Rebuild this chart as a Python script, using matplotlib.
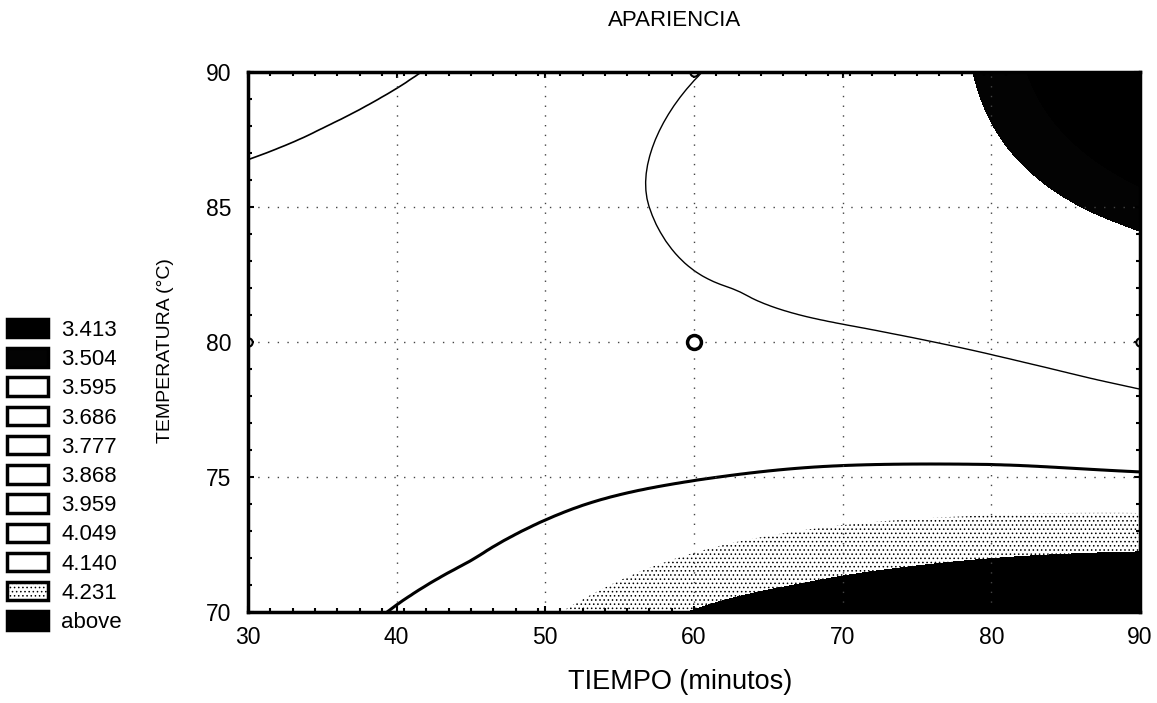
import numpy as np
import matplotlib
matplotlib.use('Agg')
import matplotlib.pyplot as plt
import matplotlib.tri as mtri
from matplotlib.patches import Patch
from matplotlib.ticker import MultipleLocator

plt.rcParams['font.family'] = ['Liberation Sans', 'DejaVu Sans']
plt.rcParams['hatch.color'] = 'black'
plt.rcParams['hatch.linewidth'] = 0.6

# superficie de respuesta: apariencia en la rejilla tiempo x temperatura
tiempo = [30, 40, 50, 60, 70, 80, 90]
temperatura = [70, 75, 80, 85, 90]
apariencia = [
    [3.930, 4.055, 4.130, 4.235, 4.300, 4.355, 4.380],
    [3.960, 3.990, 4.020, 4.045, 4.065, 4.070, 4.060],
    [4.010, 4.000, 3.970, 3.920, 3.890, 3.845, 3.760],
    [4.040, 4.020, 3.950, 3.840, 3.760, 3.600, 3.450],
    [4.075, 4.056, 3.988, 3.875, 3.714, 3.470, 3.246],
]
niveles = [3.413, 3.504, 3.595, 3.686, 3.777, 3.868, 3.959, 4.049, 4.140, 4.231]
etiquetas = ['%.3f' % n for n in niveles] + ['above']

# relleno de cada franja (11 franjas)
colores = ['black', '#030303'] + ['white'] * 7 + ['white', 'black']
tramas = [None] * 9 + ['....', None]

X, Y = np.meshgrid(tiempo, temperatura)
Z = np.array(apariencia)

# suavizado cubico de la rejilla
tri = mtri.Triangulation(X.ravel(), Y.ravel())
interp = mtri.CubicTriInterpolator(tri, Z.ravel(), kind='min_E')
tri_f, z_f = mtri.UniformTriRefiner(tri).refine_field(Z.ravel(), triinterpolator=interp,
                                                      subdiv=4)

fig = plt.figure(figsize=(11.57, 7.03), dpi=100)
ax = fig.add_axes([248/1157, 1-612/703, (1140-248)/1157, (612-72)/703])

lv = [Z.min() - 1] + niveles + [Z.max() + 1]
ax.tricontourf(tri_f, z_f, levels=lv, colors=colores, hatches=tramas)

# lineas de contorno visibles
yc = tri_f.y[tri_f.triangles].mean(axis=1)
tri_bajo = mtri.Triangulation(tri_f.x, tri_f.y, tri_f.triangles, mask=yc > 82.5)
tri_alto = mtri.Triangulation(tri_f.x, tri_f.y, tri_f.triangles, mask=yc <= 82.5)
ax.tricontour(tri_bajo, z_f, levels=[4.049], colors='black', linewidths=2.2)
ax.tricontour(tri_alto, z_f, levels=[4.049], colors='black', linewidths=1.2)
ax.tricontour(tri_f, z_f, levels=[3.868], colors='black', linewidths=1.0)

# rejilla punteada
for xv in [40, 50, 60, 70, 80]:
    ax.axvline(xv, color='#444444', lw=1.0, ls=(0, (1, 6)))
for yv in [75, 80, 85]:
    ax.axhline(yv, color='#444444', lw=1.0, ls=(0, (1, 6)))

# punto central y puntos del diseño
ax.plot(60, 80, 'o', mfc='white', mec='black', ms=10, mew=2.5)
ax.plot([60, 30, 90], [90, 80, 80], 'o', mfc='white', mec='black', ms=6, mew=1.5)

ax.set_xlim(30, 90)
ax.set_ylim(70, 90)
ax.set_xticks([30, 40, 50, 60, 70, 80, 90])
ax.set_yticks([70, 75, 80, 85, 90])
ax.xaxis.set_minor_locator(MultipleLocator(1.5))
ax.yaxis.set_minor_locator(MultipleLocator(1))
ax.tick_params(which='both', direction='in', top=True, right=True, width=1.5)
ax.tick_params(which='major', length=4, labelsize=16.5)
ax.tick_params(which='minor', length=3)
ax.tick_params(axis='x', pad=10)
ax.tick_params(axis='y', pad=12)
for s in ax.spines.values():
    s.set_linewidth(2.5)

fig.text(675/1157, 1-20/703, 'APARIENCIA', ha='center', va='center', fontsize=16)
fig.text(680/1157, 1-682/703, 'TIEMPO (minutos)', ha='center', va='center', fontsize=19.5)
fig.text(166/1157, 1-351/703, 'TEMPERATURA (°C)', ha='center', va='center',
         rotation=90, fontsize=14)

handles = [Patch(facecolor=c, edgecolor='black', lw=2.5, hatch=h)
           for c, h in zip(colores, tramas)]
fig.legend(handles, etiquetas, loc='upper left', bbox_to_anchor=(7/1157, 1-319/703),
           frameon=False, fontsize=16, handlelength=1.85, handleheight=0.9,
           handletextpad=0.6, labelspacing=0.33, borderpad=0, borderaxespad=0)

fig.savefig('out.png', dpi=100)
